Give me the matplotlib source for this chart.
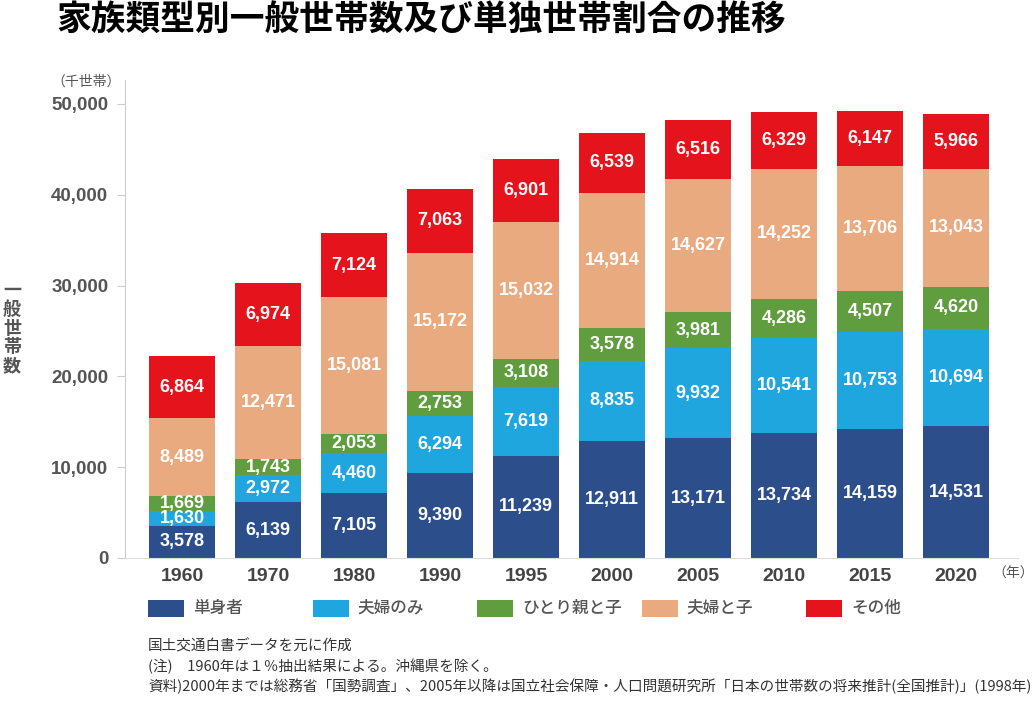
import matplotlib.pyplot as plt
from matplotlib.patches import Rectangle

years = ["1960", "1970", "1980", "1990", "1995", "2000", "2005", "2010", "2015", "2020"]
single = [3578, 6139, 7105, 9390, 11239, 12911, 13171, 13734, 14159, 14531]
couple_only = [1630, 2972, 4460, 6294, 7619, 8835, 9932, 10541, 10753, 10694]
single_parent = [1669, 1743, 2053, 2753, 3108, 3578, 3981, 4286, 4507, 4620]
couple_child = [8489, 12471, 15081, 15172, 15032, 14914, 14627, 14252, 13706, 13043]
other = [6864, 6974, 7124, 7063, 6901, 6539, 6516, 6329, 6147, 5966]

series = [single, couple_only, single_parent, couple_child, other]
names = ["単身者", "夫婦のみ", "ひとり親と子", "夫婦と子", "その他"]
colors = ["#2c4f8c", "#1fa6df", "#5f9d3f", "#eaaa80", "#e5131b"]

JP = ["Noto Sans CJK JP", "DejaVu Sans"]
NUM = ["Liberation Sans", "Noto Sans CJK JP", "DejaVu Sans"]
GRAY = "#555555"

fig = plt.figure(figsize=(10.36, 7.06), dpi=100)
ax = fig.add_axes([125 / 1036, 1 - 558 / 706, (1018 - 125) / 1036, (558 - 80) / 706])

x = list(range(len(years)))
bottom = [0] * len(years)
for vals, col in zip(series, colors):
    ax.bar(x, vals, bottom=bottom, width=0.765, color=col, edgecolor="none", zorder=2)
    for i, v in enumerate(vals):
        ax.text(i, bottom[i] + v / 2, f"{v:,}", ha="center", va="center",
                color="white", fontsize=13, fontweight="bold", family=NUM, zorder=3)
    bottom = [b + v for b, v in zip(bottom, vals)]

ax.set_xlim(-0.663, 9.72)
ax.set_ylim(0, 52640)
ax.set_yticks([0, 10000, 20000, 30000, 40000, 50000])
ax.set_yticklabels([f"{t:,}" for t in [0, 10000, 20000, 30000, 40000, 50000]],
                   family=NUM, fontsize=13.5, fontweight="bold", color=GRAY)
ax.set_xticks(x)
ax.set_xticklabels(years, family=NUM, fontsize=14, fontweight="bold", color="#444444")
ax.tick_params(axis="y", length=6, color="#cccccc", pad=6)
ax.tick_params(axis="x", length=0, pad=7)
for s in ["top", "right"]:
    ax.spines[s].set_visible(False)
ax.spines["left"].set_color("#cccccc")
ax.spines["bottom"].set_color("#dddddd")

fig.text(56 / 1036, 1 - 20 / 706, "家族類型別一般世帯数及び単独世帯割合の推移",
         family=JP, fontsize=25, fontweight="bold", ha="left", va="center")
fig.text(121 / 1036, 1 - 82 / 706, "（千世帯）", family=JP, fontsize=10,
         color=GRAY, ha="right", va="center")
fig.text(1034 / 1036, 1 - 574 / 706, "（年）", family=JP, fontsize=10,
         color=GRAY, ha="right", va="center")
fig.text(12 / 1036, 1 - 328 / 706, "\n".join("一般世帯数"), family=JP, fontsize=13,
         fontweight="bold", color=GRAY, ha="center", va="center", linespacing=1.0)

# legend
for k, (nm, col) in enumerate(zip(names, colors)):
    x0 = 148 + k * 164.5
    fig.add_artist(Rectangle((x0 / 1036, 1 - 617 / 706), 36 / 1036, 17 / 706,
                             transform=fig.transFigure, color=col, lw=0))
    fig.text((x0 + 45) / 1036, 1 - 608 / 706, nm, family=JP, fontsize=12,
             fontweight="medium", color=GRAY, ha="left", va="center")

notes = [
    "国土交通白書データを元に作成",
    "(注)　1960年は１％抽出結果による。沖縄県を除く。",
    "資料)2000年までは総務省「国勢調査」、2005年以降は国立社会保障・人口問題研究所「日本の世帯数の将来推計(全国推計)」(1998年)",
]
for j, t in enumerate(notes):
    fig.text(148 / 1036, 1 - (646 + j * 20) / 706, t, family=JP, fontsize=10.5,
             color="#333333", ha="left", va="center")

fig.savefig("out.png", dpi=100)
